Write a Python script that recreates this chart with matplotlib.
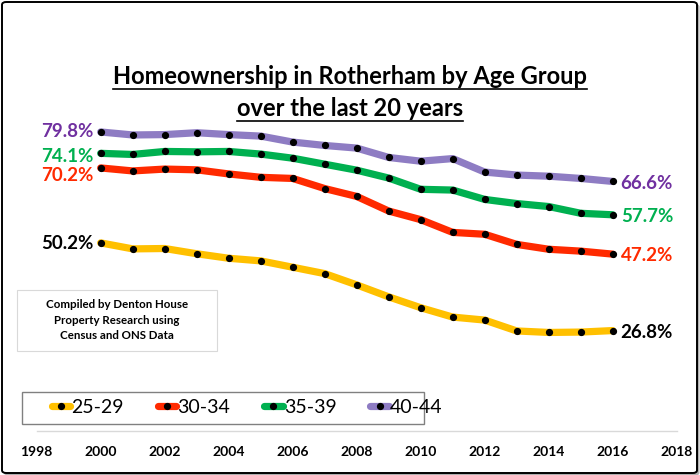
import matplotlib
matplotlib.use("Agg")
from matplotlib import pyplot as plt
from matplotlib.patches import FancyBboxPatch, Rectangle
from matplotlib.lines import Line2D

plt.rcParams['font.family'] = ['Lato', 'DejaVu Sans']

# data
years = list(range(2000, 2017))
age_25_29 = [50.2, 48.6, 48.7, 47.3, 46.1, 45.4, 43.7, 42.0, 39.0, 35.8, 32.9, 30.4, 29.6, 26.7, 26.3, 26.4, 26.8]
age_30_34 = [70.2, 69.4, 69.9, 69.7, 68.6, 67.7, 67.4, 64.7, 62.6, 58.7, 56.4, 53.0, 52.5, 49.8, 48.5, 48.0, 47.2]
age_35_39 = [74.1, 73.8, 74.6, 74.5, 74.6, 73.9, 72.8, 71.2, 69.6, 67.5, 64.5, 64.3, 61.8, 60.7, 59.9, 58.1, 57.7]
age_40_44 = [79.8, 79.0, 79.1, 79.6, 79.1, 78.7, 77.1, 76.2, 75.5, 73.0, 72.0, 72.7, 69.1, 68.3, 68.0, 67.4, 66.6]
series_names = ["25-29", "30-34", "35-39", "40-44"]
xticks = list(range(1998, 2019, 2))

line_colors = ["#FFC000", "#FF2A00", "#00B050", "#8E7CC3"]
label_colors = ["#000000", "#FF2A00", "#00B050", "#7030A0"]
# vertical nudges (pixels, downward) of the start/end labels, as in the original
start_nudge = [1, 8, 3, 0]
end_nudge = [2, 1, 2, 2]

W, H = 700, 475
fig = plt.figure(figsize=(W / 100, H / 100), dpi=100)

def fx(px):
    return px / W

def fy(py):
    return 1 - py / H

# outer frame with a little shadow
shadow = FancyBboxPatch((fx(4), fy(475.5)), fx(695.5), fy(4) - fy(475.5),
                        boxstyle="round,pad=0,rounding_size=0.006",
                        transform=fig.transFigure, facecolor="#b0b0b0",
                        edgecolor="none", zorder=-3)
frame = FancyBboxPatch((fx(2), fy(473)), fx(695), fy(2) - fy(473),
                       boxstyle="round,pad=0,rounding_size=0.006",
                       transform=fig.transFigure, facecolor="white",
                       edgecolor="black", linewidth=1.4, zorder=-2)
fig.patches.extend([shadow, frame])

# axes: 1998..2018 spans x 36.7..676.7 px, y 0 at 431 px, 90 at 93.75 px
ax = fig.add_axes([fx(36.7), fy(431), fx(640), fy(93.75) - fy(431)])
ax.set_facecolor("none")
ax.set_xlim(1998, 2018)
ax.set_ylim(0, 90)

all_series = [age_25_29, age_30_34, age_35_39, age_40_44]
for vals, name, lc in zip(all_series, series_names, line_colors):
    ax.plot(years, vals, color=lc, linewidth=5.2, solid_joinstyle="round",
            solid_capstyle="round", marker="o", markersize=4.2,
            markerfacecolor="black", markeredgecolor="black", label=name)

for vals, tc, sn, en in zip(all_series, label_colors, start_nudge, end_nudge):
    ax.annotate(f"{vals[0]:.1f}%", (years[0], vals[0]), xytext=(-7, -sn),
                textcoords="offset pixels", ha="right", va="center",
                fontsize=13.5, fontweight="bold", color=tc)
    ax.annotate(f"{vals[-1]:.1f}%", (years[-1], vals[-1]), xytext=(8, -en),
                textcoords="offset pixels", ha="left", va="center",
                fontsize=13.5, fontweight="bold", color=tc)

for s in ["top", "right", "left"]:
    ax.spines[s].set_visible(False)
ax.spines["bottom"].set_color("#d9d9d9")
ax.spines["bottom"].set_linewidth(1)
ax.set_yticks([])
ax.set_xticks(xticks)
ax.set_xticklabels([str(t) for t in xticks], fontweight="bold", fontsize=10)
ax.tick_params(axis="x", length=0, pad=11)

# title, underlined
t1 = fig.text(0.5, fy(76), "Homeownership in Rotherham by Age Group",
              ha="center", va="center", fontsize=17, fontweight="bold")
t2 = fig.text(0.5, fy(108), "over the last 20 years",
              ha="center", va="center", fontsize=17, fontweight="bold")

# source note box
fig.patches.append(Rectangle((fx(17), fy(351)), fx(200), fy(290) - fy(351),
                             transform=fig.transFigure, facecolor="white",
                             edgecolor="#d9d9d9", linewidth=0.8, zorder=2))
fig.text(fx(117), fy(320), "Compiled by Denton House\nProperty Research using\nCensus and ONS Data",
         ha="center", va="center", fontsize=8.3, fontweight="bold", linespacing=1.45)

# legend: own box, entries placed inside it
fig.patches.append(Rectangle((fx(22.5), fy(423.5)), fx(401), fy(391.5) - fy(423.5),
                             transform=fig.transFigure, facecolor="white",
                             edgecolor="#808080", linewidth=1, zorder=2))
leg_handles = [Line2D([0], [0], color=lc, linewidth=5.2, solid_capstyle="round",
                      marker="o", markersize=4.2, markerfacecolor="black",
                      markeredgecolor="black") for lc in line_colors]
leg = fig.legend(leg_handles, series_names, loc="center left",
                 bbox_to_anchor=(fx(52), fy(407.5)), ncol=4, frameon=False,
                 fontsize=14, handlelength=0.95, handletextpad=0.05,
                 columnspacing=1.75, borderpad=0, borderaxespad=0)
leg.set_zorder(3)

fig.canvas.draw()
r = fig.canvas.get_renderer()
for t, uy in [(t1, 89), (t2, 121)]:
    bb = t.get_window_extent(r)
    fig.add_artist(Line2D([bb.x0 / W, bb.x1 / W], [fy(uy), fy(uy)],
                          transform=fig.transFigure, color="black", linewidth=1.2))

fig.savefig("out.png", dpi=100)
